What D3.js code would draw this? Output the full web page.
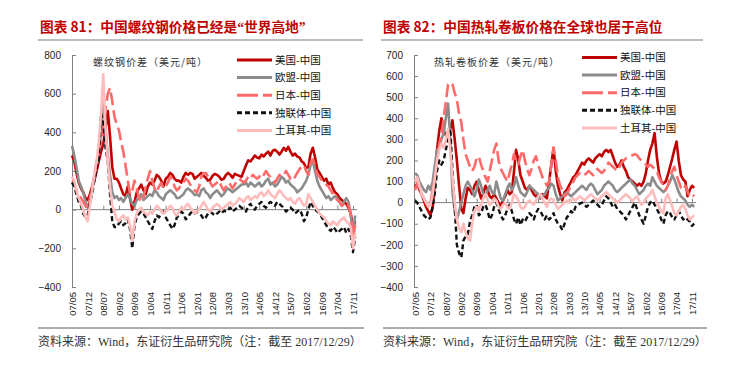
<!DOCTYPE html>
<html>
<head>
<meta charset="utf-8">
<script src="https://cdn.jsdelivr.net/npm/d3@7"></script>
<style>
body { margin: 0; background: #fff; }
svg text { font-family: "Liberation Sans", Arial, sans-serif; }
</style>
</head>
<body>
<svg width="742" height="372"></svg>
<script>
// monthly points, 2007/05 .. 2017/12
var months = d3.timeMonth.range(new Date(2007, 4, 1), new Date(2018, 0, 1));
var tickLabels = ["07/05","07/12","08/07","09/02","09/09","10/04","10/11","11/06","12/01","12/08",
                  "13/03","13/10","14/05","14/12","15/07","16/02","16/09","17/04","17/11"];
var seriesNames = ["美国-中国", "欧盟-中国", "日本-中国", "独联体-中国", "土耳其-中国"];

// 螺纹钢价差（美元/吨）
var rebarUS = [280,250,190,140,110,90,60,50,80,120,
  150,200,250,300,340,420,510,380,220,160,
  160,140,110,80,70,120,60,0,40,90,
  110,130,100,80,120,140,130,150,180,170,
  150,120,160,170,190,180,160,150,150,140,
  170,190,180,190,185,160,170,180,190,175,
  165,150,155,175,185,180,170,155,160,180,
  190,180,165,185,180,175,170,200,230,255,
  250,265,280,270,265,285,275,290,300,280,
  305,310,300,285,300,320,305,325,300,280,
  290,275,270,250,240,215,220,290,320,270,
  210,190,170,150,160,130,140,110,90,80,
  60,50,40,30,10,-20,-100,-60];
var rebarEU = [330,280,220,150,120,90,40,10,40,100,
  170,230,290,400,590,420,280,180,90,60,
  70,50,60,40,60,80,60,30,20,50,
  60,80,50,60,70,80,70,100,90,70,
  60,50,80,90,100,90,80,60,60,70,
  80,100,110,100,90,75,80,70,100,110,
  90,80,60,80,90,100,85,70,80,100,
  110,100,90,100,110,120,130,130,140,120,
  140,130,120,130,140,120,130,150,160,130,
  140,120,130,150,170,160,140,150,130,120,
  110,90,100,110,130,150,180,230,250,200,
  150,120,100,80,60,70,50,60,70,60,
  40,20,40,60,40,-30,-120,-30];
var rebarJP = [150,140,100,80,60,40,20,0,60,120,
  180,250,300,350,430,520,600,630,560,480,
  440,410,350,300,230,150,80,100,150,110,
  60,40,60,120,160,200,150,110,90,120,
  140,110,120,140,170,160,120,100,110,130,
  140,160,150,130,120,100,90,120,170,190,
  190,170,140,120,130,140,150,120,100,120,
  140,130,110,130,150,160,150,140,150,170,
  160,180,170,160,170,190,180,200,180,170,
  150,140,160,180,170,180,200,180,160,150,
  170,190,210,220,230,200,180,240,260,230,
  180,170,150,140,130,120,100,80,60,50,
  40,20,30,40,20,-20,-150,-80];
var rebarCIS = [140,120,80,40,20,-20,-40,-30,40,80,
  150,220,260,500,450,320,250,80,-60,-90,
  -90,-70,-60,-80,-70,-50,-100,-200,-80,-40,
  -20,-10,-20,-40,-60,-80,-100,-60,-30,-40,
  -20,-10,-40,-60,-80,-100,-80,-40,-30,-10,
  -20,-50,-40,-20,-10,-20,-10,-20,-30,-50,
  -40,-20,-10,-20,-30,-20,-10,-20,-5,-10,
  0,10,-10,0,10,20,10,0,-10,20,
  30,10,0,20,30,40,20,10,30,40,
  30,20,40,30,20,10,-10,0,10,0,
  -20,-10,0,-20,-60,-40,0,40,20,0,
  -10,-20,-40,-60,-80,-100,-110,-90,-100,-120,
  -110,-100,-90,-120,-100,-130,-220,-140];
var rebarTR = [170,150,100,60,30,0,-40,-60,20,100,
  180,250,350,500,700,420,250,120,20,-10,
  -50,-60,-40,-30,-50,-40,-80,-160,-60,-20,
  0,10,-10,-20,-30,-10,-20,0,20,10,
  -10,-20,-10,0,20,10,-20,-30,-10,10,
  0,20,30,10,0,-20,-10,0,20,40,
  20,0,-10,10,20,30,20,0,10,20,
  30,40,20,30,40,60,50,40,60,70,
  50,60,70,60,80,90,70,80,100,80,
  70,60,80,100,90,70,60,50,60,40,
  30,50,60,40,20,30,80,60,40,20,
  0,-20,-30,-40,-60,-70,-80,-60,-70,-80,
  -60,-50,-40,-60,-70,-90,-200,-120];

// 热轧卷板价差（美元/吨）
var hrcUS = [75,90,60,40,10,-20,-40,-60,-20,100,
  250,340,400,340,320,330,350,390,300,200,
  80,-30,-50,20,70,60,40,80,100,60,
  20,40,80,60,30,20,40,20,0,-20,
  10,30,60,40,50,150,250,200,130,100,
  70,60,80,60,40,30,40,20,40,30,
  20,100,180,260,150,80,40,10,50,60,
  80,100,120,130,150,170,190,180,200,210,
  200,190,210,220,230,220,240,250,240,250,
  220,190,170,180,200,170,150,120,110,100,
  90,80,90,80,100,140,200,250,280,330,
  220,140,100,90,100,130,170,210,250,290,
  200,130,110,100,30,60,80,70];
var hrcEU = [140,130,100,80,60,50,80,60,100,180,
  250,260,300,330,400,470,300,50,-40,-80,
  -40,0,40,80,100,80,60,30,60,110,
  80,40,30,60,80,50,40,100,60,20,
  10,40,70,90,60,80,120,80,50,40,
  30,50,80,70,60,50,40,20,30,40,
  60,70,90,80,40,10,20,30,40,50,
  40,30,40,50,60,70,80,70,60,80,
  90,80,60,40,50,60,80,90,100,90,
  80,60,50,60,70,80,90,100,110,90,
  80,60,40,50,60,80,90,80,120,100,
  80,70,60,50,60,80,100,130,110,80,
  50,30,20,10,-10,-20,-10,-20];
var hrcJP = [60,90,70,40,20,0,-20,0,60,120,
  200,280,320,400,480,560,570,560,520,490,
  420,380,300,230,200,170,150,170,210,220,
  180,150,120,100,150,200,250,280,200,160,
  140,120,100,140,180,230,200,180,220,250,
  200,160,130,160,200,220,180,150,120,100,
  80,100,180,260,200,120,80,60,30,40,
  60,80,100,120,130,140,140,130,140,150,
  140,130,140,160,150,140,150,170,190,180,
  170,160,150,170,190,200,210,215,220,225,
  230,225,210,200,190,180,170,180,170,160,
  150,120,100,80,60,80,120,150,170,130,
  100,70,60,80,50,30,40,30];
var hrcCIS = [10,0,-20,-40,-60,-70,-80,-70,-20,50,
  150,200,180,200,250,300,350,150,-20,-200,
  -240,-260,-180,-160,-150,-90,-60,-20,-10,-60,
  -50,-20,-10,-40,-80,-60,-20,0,-30,-60,
  -80,-60,-30,-10,-40,-80,-100,-70,-106,-80,
  -90,-70,-50,-60,-80,-50,-30,-40,-60,-80,
  -60,-80,-70,-50,-80,-100,-110,-130,-100,-70,
  -60,-40,-50,-20,-10,-5,0,-10,-20,-10,
  0,10,0,-10,-20,-10,10,30,20,0,
  -20,-10,-30,-40,-50,-60,-80,-60,-40,-20,
  0,-30,-60,-80,-100,-60,-20,0,10,-10,
  -30,-50,-80,-100,-60,-40,-50,-70,-80,-60,
  -40,-60,-80,-70,-80,-90,-110,-100];
var hrcTR = [100,120,80,40,20,0,-20,-10,40,120,
  200,250,280,260,300,350,250,120,0,-80,
  -120,-140,-100,-140,-170,-180,-100,-40,-20,-40,
  -10,20,40,10,-10,0,20,10,-20,-30,
  -10,0,-20,-30,0,40,30,10,-20,-30,
  -20,0,10,0,-10,10,30,40,20,0,
  -20,10,20,10,-10,-30,-20,-10,0,10,
  0,10,20,10,20,30,20,10,20,30,
  40,30,20,10,20,30,40,50,40,30,
  20,10,0,10,20,30,40,30,20,10,
  20,30,10,-10,0,20,30,40,60,30,
  0,-20,-40,-50,20,40,10,-20,-50,-60,
  -40,-20,-10,-30,-60,-80,-70,-60];

var styles = [
  {color: "#c00000", width: 2.6, dash: null},
  {color: "#8c8c8c", width: 2.6, dash: null},
  {color: "#ff6a6a", width: 2.6, dash: "13,5"},
  {color: "#111111", width: 2.4, dash: "5,3"},
  {color: "#ffbcbc", width: 2.6, dash: null}
];

var svg = d3.select("svg");
var parseTick = d3.timeParse("%y/%m");
var endDate = new Date(2017, 11, 29);

function drawPanel(p) {
  var g = svg.append("g");
  var x = d3.scaleTime().domain([parseTick("07/05"), parseTick("17/11")]).range(p.xRange);
  var y = d3.scaleLinear().domain(p.yDomain).range([287, 55]);

  // title + rule
  var t = g.append("text").attr("x", p.titleX).attr("y", 32)
    .style("font-family", "'Noto Sans CJK SC', sans-serif")
    .style("font-size", "13.7px").style("font-weight", "bold").attr("fill", "#c00000");
  p.title.forEach(function (part) {
    var ts = t.append("tspan").text(part.text);
    if (part.serif) ts.style("font-family", "'Liberation Serif', serif");
  });
  g.append("line").attr("x1", p.rule[0]).attr("x2", p.rule[1]).attr("y1", 40).attr("y2", 40)
    .attr("stroke", "#a6a6a6").attr("stroke-width", 1.5);

  // footer
  g.append("line").attr("x1", p.foot[0]).attr("x2", p.foot[1]).attr("y1", 328).attr("y2", 328)
    .attr("stroke", "#595959").attr("stroke-width", 1);
  g.append("text").attr("x", p.foot[0]).attr("y", 346)
    .style("font-family", "'Liberation Serif', 'Noto Sans CJK SC', serif")
    .style("font-size", "12px").attr("fill", "#333")
    .text("资料来源：Wind，东证衍生品研究院（注：截至 2017/12/29）");

  // y axis
  var yAxis = g.append("g").attr("transform", "translate(" + p.axisX + ",0)")
    .call(d3.axisLeft(y).tickValues(d3.range(p.yDomain[0], p.yDomain[1] + 1, p.yStep))
      .tickSize(-4).tickSizeOuter(0).tickPadding(11));
  yAxis.select(".domain").attr("stroke", "#808080");
  yAxis.selectAll(".tick line").attr("stroke", "#808080");
  yAxis.selectAll("text").style("font-size", "10px").attr("fill", "#222");

  // zero line with small ticks
  g.append("line").attr("x1", p.axisX).attr("x2", x(endDate)).attr("y1", y(0)).attr("y2", y(0))
    .attr("stroke", "#808080").attr("stroke-width", 1);
  var zeroAxis = g.append("g").attr("transform", "translate(0," + y(0) + ")")
    .call(d3.axisBottom(x).tickValues(tickLabels.map(parseTick)).tickSize(-4).tickFormat(""));
  zeroAxis.select(".domain").remove();
  zeroAxis.selectAll(".tick line").attr("stroke", "#808080");

  // bottom labels
  var xAxis = g.append("g").attr("transform", "translate(0,287)")
    .call(d3.axisBottom(x).tickValues(tickLabels.map(parseTick)).tickSize(0).tickFormat(d3.timeFormat("%y/%m")));
  xAxis.select(".domain").remove();
  xAxis.selectAll("text")
    .attr("transform", "rotate(-90)").attr("x", -5).attr("y", 0).attr("dy", "0.35em")
    .style("text-anchor", "end").style("font-size", "9.5px").attr("fill", "#222");

  // unit label
  g.append("text").attr("x", p.unitX).attr("y", 66)
    .style("font-family", "'Noto Sans CJK SC', sans-serif").style("font-size", "10px")
    .style("letter-spacing", "1px").attr("fill", "#333").text(p.unit);

  // series
  var line = d3.line().x(function (d, i) { return x(months[i]); }).y(function (d) { return y(d); });
  p.series.forEach(function (s, i) {
    g.append("path").datum(s).attr("d", line).attr("fill", "none")
      .attr("stroke", styles[i].color).attr("stroke-width", styles[i].width)
      .attr("stroke-dasharray", styles[i].dash).attr("stroke-linejoin", "round");
  });

  // legend
  seriesNames.forEach(function (name, i) {
    var ly = p.legend.y0 + i * 17.6;
    g.append("line").attr("x1", p.legend.x).attr("x2", p.legend.x + 35).attr("y1", ly).attr("y2", ly)
      .attr("stroke", styles[i].color).attr("stroke-width", 3)
      .attr("stroke-dasharray", i === 2 ? "21,5" : styles[i].dash);
    g.append("text").attr("x", p.legend.x + 38).attr("y", ly).attr("dy", "0.36em")
      .style("font-family", "'Noto Sans CJK SC', sans-serif").style("font-size", "10.5px")
      .attr("fill", "#111").text(name);
  });
}

drawPanel({
  title: [{text: "图表 81：中国螺纹钢价格已经是"}, {text: "“", serif: true}, {text: "世界高地"}, {text: "”", serif: true}],
  titleX: 40, rule: [38, 363], foot: [38, 364],
  axisX: 72, xRange: [72, 353], yDomain: [-400, 800], yStep: 200,
  unit: "螺纹钢价差（美元/吨）", unitX: 93,
  legend: {x: 237, y0: 60},
  series: [rebarUS, rebarEU, rebarJP, rebarCIS, rebarTR]
});

drawPanel({
  title: [{text: "图表 82：中国热轧卷板价格在全球也居于高位"}],
  titleX: 383, rule: [381, 703], foot: [383, 707],
  axisX: 414, xRange: [415, 692], yDomain: [-400, 700], yStep: 100,
  unit: "热轧卷板价差（美元/吨）", unitX: 434,
  legend: {x: 582, y0: 57.5},
  series: [hrcUS, hrcEU, hrcJP, hrcCIS, hrcTR]
});
</script>
</body>
</html>
